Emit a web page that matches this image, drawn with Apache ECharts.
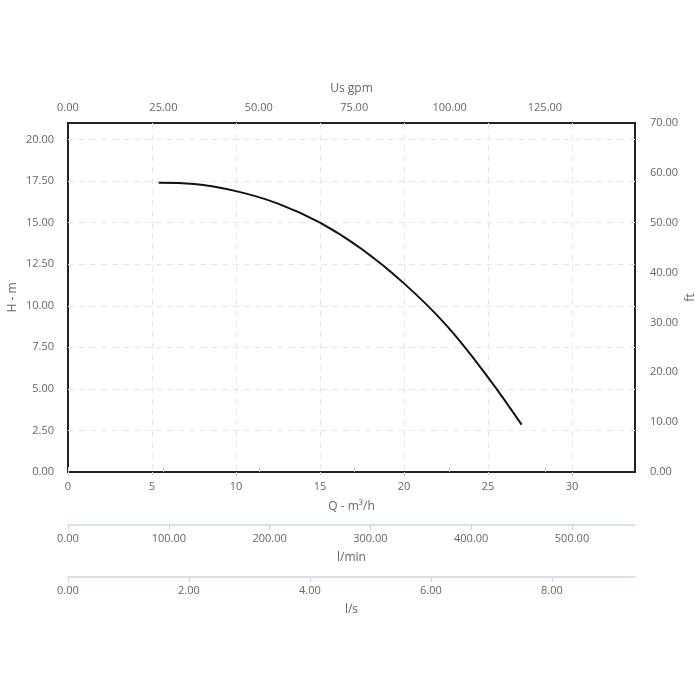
<!DOCTYPE html>
<html>
<head>
<meta charset="utf-8">
<script src="https://cdn.jsdelivr.net/npm/echarts@6/dist/echarts.min.js"></script>
<style>html,body{margin:0;padding:0;background:#fff}#c{width:700px;height:700px}</style>
</head>
<body>
<div id="c"></div>
<script>
// Data
const flowQ = [5.4, 7.5, 10, 12.5, 15, 17.5, 20, 22.5, 25, 27];               // m³/h
const headH = [17.4, 17.33, 16.9, 16.15, 15.0, 13.4, 11.35, 8.85, 5.7, 2.85];  // m
const qMax = 33.75;      // m³/h axis maximum
const hMax = 21;         // m axis maximum
const ftMax = 70;        // ft axis maximum
const gpmPerM3h = 4.40287;
const lminPerM3h = 1000 / 60;
const lsPerM3h = 1 / 3.6;

const labelColor = '#666';
const lightLine = '#ccd6eb';
const font = 'Open Sans';

const curve = flowQ.map((q, i) => [q, headH[i]]);

const chart = echarts.init(document.getElementById('c'));
const baseLabel = { color: labelColor, fontSize: 11, fontFamily: font };
const baseName = { color: labelColor, fontSize: 12, fontFamily: font };
const gridSplit = { show: true, showMinLine: false, showMaxLine: false, lineStyle: { color: '#e6e6e6', type: [6, 5] } };

chart.setOption({
  animation: false,
  grid: [
    { left: 68, top: 123, width: 567, height: 349, show: true, borderColor: '#222', borderWidth: 2, backgroundColor: 'transparent', outerBoundsMode: 'none', containLabel: false },
    { left: 68, top: 524, width: 567, height: 1, outerBoundsMode: 'none', containLabel: false },
    { left: 68, top: 576, width: 567, height: 1, outerBoundsMode: 'none', containLabel: false }
  ],
  xAxis: [
    {
      type: 'value', gridIndex: 0, position: 'bottom', min: 0, max: qMax, interval: 5,
      name: 'Q - m³/h', nameLocation: 'middle', nameGap: 29, nameMoveOverlap: false, nameTextStyle: baseName,
      axisLine: { show: false },
      axisTick: { show: true, length: 4, lineStyle: { color: lightLine } },
      axisLabel: Object.assign({ margin: 9, showMaxLabel: false, formatter: v => String(v) }, baseLabel),
      splitLine: gridSplit
    },
    {
      type: 'value', gridIndex: 0, position: 'top', min: 0, max: qMax * gpmPerM3h, interval: 25,
      name: 'Us gpm', nameLocation: 'middle', nameGap: 28, nameMoveOverlap: false, nameTextStyle: baseName,
      axisLine: { show: false },
      axisTick: { show: true, length: 5, lineStyle: { color: lightLine } },
      axisLabel: Object.assign({ margin: 10, showMaxLabel: false, formatter: v => v.toFixed(2) }, baseLabel),
      splitLine: { show: false }
    },
    {
      type: 'value', gridIndex: 1, position: 'bottom', min: 0, max: qMax * lminPerM3h, interval: 100,
      name: 'l/min', nameLocation: 'middle', nameGap: 27, nameMoveOverlap: false, nameTextStyle: baseName,
      axisLine: { show: true, lineStyle: { color: lightLine, width: 1.5 } },
      axisTick: { show: true, length: 5, lineStyle: { color: lightLine } },
      axisLabel: Object.assign({ margin: 8, showMaxLabel: false, formatter: v => v.toFixed(2) }, baseLabel),
      splitLine: { show: false }
    },
    {
      type: 'value', gridIndex: 2, position: 'bottom', min: 0, max: qMax * lsPerM3h, interval: 2,
      name: 'l/s', nameLocation: 'middle', nameGap: 27, nameMoveOverlap: false, nameTextStyle: baseName,
      axisLine: { show: true, lineStyle: { color: lightLine, width: 1.5 } },
      axisTick: { show: true, length: 5, lineStyle: { color: lightLine } },
      axisLabel: Object.assign({ margin: 8, showMaxLabel: false, formatter: v => v.toFixed(2) }, baseLabel),
      splitLine: { show: false }
    }
  ],
  yAxis: [
    {
      type: 'value', gridIndex: 0, position: 'left', min: 0, max: hMax, interval: 2.5,
      name: 'H - m', nameLocation: 'middle', nameGap: 49, nameMoveOverlap: false, nameTextStyle: baseName,
      axisLine: { show: false }, axisTick: { show: false },
      axisLabel: Object.assign({ margin: 14, showMaxLabel: false, formatter: v => v.toFixed(2) }, baseLabel),
      splitLine: gridSplit
    },
    {
      type: 'value', gridIndex: 0, position: 'right', min: 0, max: ftMax, interval: 10,
      name: 'ft', nameLocation: 'middle', nameGap: 50, nameMoveOverlap: false, nameTextStyle: baseName,
      axisLine: { show: false }, axisTick: { show: false },
      axisLabel: Object.assign({ margin: 15, formatter: v => v.toFixed(2) }, baseLabel),
      splitLine: { show: false }
    },
    { type: 'value', gridIndex: 1, min: 0, max: 1, show: false },
    { type: 'value', gridIndex: 2, min: 0, max: 1, show: false }
  ],
  series: [
    {
      type: 'line', xAxisIndex: 0, yAxisIndex: 0, data: curve, smooth: 0.4,
      showSymbol: false, symbol: 'none',
      lineStyle: { color: '#111', width: 2 }
    }
  ]
});
</script>
</body>
</html>
